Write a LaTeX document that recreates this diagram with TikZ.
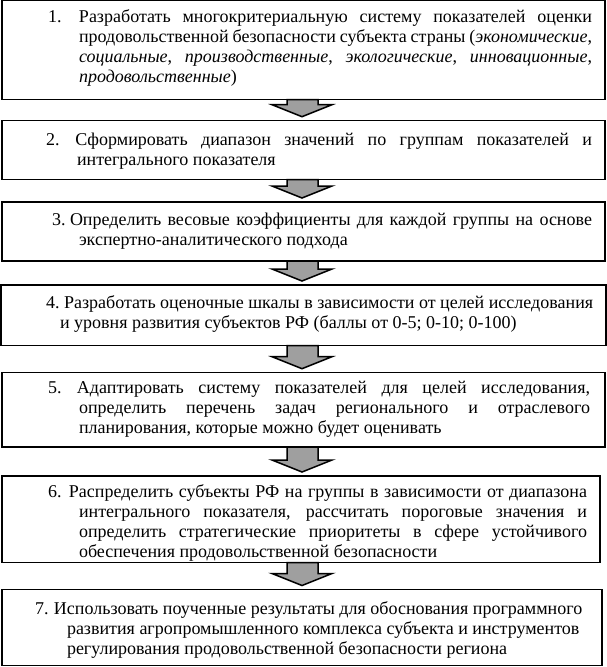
\documentclass[tikz,border=0pt]{standalone}
\usepackage{fontspec}
\setmainfont{Liberation Serif}
\newfontfamily\stepfont{Liberation Serif}
\usetikzlibrary{calc}
\tikzset{
  stepbox/.style={draw=black, line width=1.2bp, rectangle, inner sep=0pt, outer sep=0pt, anchor=north west},
  steptext/.style={inner sep=0pt, outer sep=0pt, anchor=base west},
  blockarrow/.style={draw=black, fill=gray!75, line width=1.5bp, line join=miter}
}
\newcommand\flowarrow[2]{%
  \draw[blockarrow] let \p1=(#1.south), \p2=(#2.north) in
    (287bp,\y1) -- (318bp,\y1) -- (318bp,\y2+16bp) -- (332bp,\y2+16bp)
    -- (302bp,\y2+4bp) -- (272bp,\y2+16bp) -- (287bp,\y2+16bp) -- cycle;}
% #1 width, #2 number, #3 number box width, #4 hanging indent, #5 text
\newcommand\steppar[5]{\parbox[t]{#1}{\stepfont\fontsize{18bp}{20bp}\selectfont
  \parindent=0pt\hfuzz=30bp\hbadness=10000
  \hangindent=#4\hangafter=1
  \noindent\makebox[#3][l]{#2}#5\par}}
\begin{document}
\begin{tikzpicture}[x=1bp,y=-1bp]
\useasboundingbox (0,0) rectangle (607,667);
% boxes
\node[stepbox, minimum width=603bp, minimum height=98.7bp] (b1) at (2,0.8) {};
\node[stepbox, minimum width=603bp, minimum height=58.8bp] (b2) at (2,120.7) {};
\node[stepbox, minimum width=603bp, minimum height=59bp] (b3) at (2,202) {};
\node[stepbox, minimum width=605bp, minimum height=60.5bp] (b4) at (1,285) {};
\node[stepbox, minimum width=603bp, minimum height=74.3bp] (b5) at (2,372.7) {};
\node[stepbox, minimum width=598bp, minimum height=86.5bp] (b6) at (2,476) {};
\node[stepbox, minimum width=600bp, minimum height=76bp] (b7) at (2,589.5) {};
% texts
\node[steptext] (t1) at (48,23) {\steppar{544bp}{1.}{31bp}{31bp}{Разработать многокритериальную систему показателей оценки\linebreak продовольственной безопасности субъекта страны (\textit{экономические},\linebreak \textit{социальные}, \textit{производственные}, \textit{экологические}, \textit{инновационные},\linebreak \textit{продовольственные})}};
\node[steptext] (t2) at (46,145) {\steppar{546bp}{2.}{29.5bp}{31bp}{Сформировать диапазон значений по группам показателей и\linebreak интегрального показателя}};
\node[steptext] (t3) at (52,225) {\steppar{540bp}{3.}{18bp}{27bp}{Определить весовые коэффициенты для каждой группы на основе\linebreak экспертно-аналитического подхода}};
\node[steptext] (t4) at (46,308) {\steppar{548bp}{4.}{18bp}{14bp}{Разработать оценочные шкалы в зависимости от целей исследования\newline и уровня развития субъектов РФ (баллы от 0-5; 0-10; 0-100)}};
\node[steptext] (t5) at (48,393) {\steppar{542bp}{5.}{29bp}{31bp}{Адаптировать систему показателей для целей исследования,\linebreak определить перечень задач регионального и отраслевого\linebreak планирования, которые можно будет оценивать}};
\node[steptext] (t6) at (48,497) {\steppar{539bp}{6.}{21bp}{31bp}{Распределить субъекты РФ на группы в зависимости от диапазона\linebreak интегрального показателя, рассчитать пороговые значения и\linebreak определить стратегические приоритеты в сфере устойчивого\linebreak обеспечения продовольственной безопасности}};
\node[steptext] (t7) at (35,614) {\steppar{555bp}{7.}{19bp}{32bp}{Использовать поученные результаты для обоснования программного\newline развития агропромышленного комплекса субъекта и инструментов\newline регулирования продовольственной безопасности региона}};
% arrows
\flowarrow{b1}{b2}
\flowarrow{b2}{b3}
\flowarrow{b3}{b4}
\flowarrow{b4}{b5}
\flowarrow{b5}{b6}
\flowarrow{b6}{b7}
\end{tikzpicture}
\end{document}
